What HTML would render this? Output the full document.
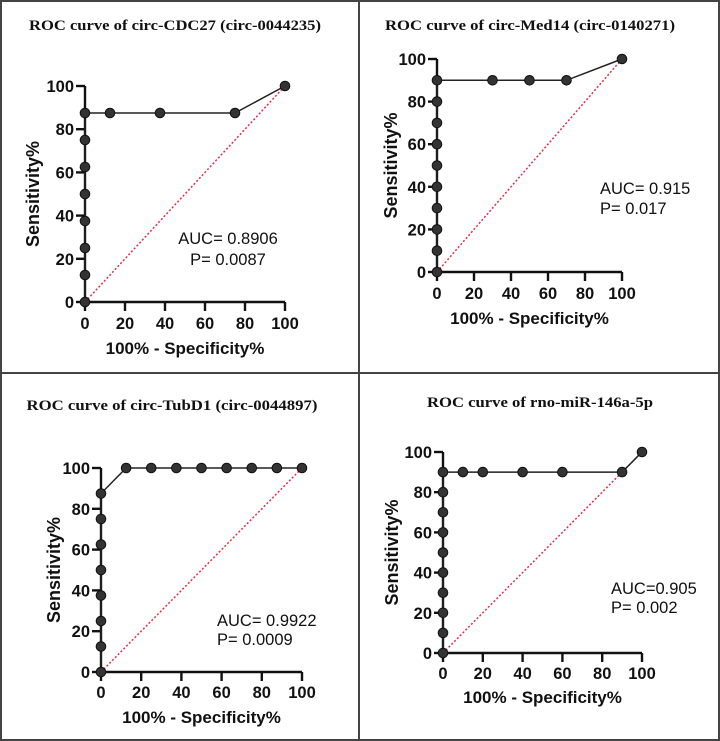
<!DOCTYPE html>
<html><head><meta charset="utf-8"><style>
html,body{margin:0;padding:0;background:#fff;}
svg{display:block;}
.tick{font:bold 16.5px "Liberation Sans",sans-serif;fill:#111;}
.atitle{font:bold 17px "Liberation Sans",sans-serif;fill:#111;}
.ytitle{font:bold 18px "Liberation Sans",sans-serif;fill:#111;}
.ptitle{font:bold 15px "Liberation Serif",serif;fill:#111;}
.auc{font:16.5px "Liberation Sans",sans-serif;fill:#111;}
</style></head><body>
<svg id="fig" width="720" height="741" viewBox="0 0 720 741" xmlns="http://www.w3.org/2000/svg">
<rect x="1" y="1" width="718" height="739" fill="#fff" stroke="#444" stroke-width="2"/>
<line x1="359" y1="0" x2="359" y2="741" stroke="#444" stroke-width="2"/>
<line x1="0" y1="373" x2="720" y2="373" stroke="#444" stroke-width="2"/>
</svg>
<script>
// Panel 1: circ-CDC27
const p1X = [0,0,0,0,0,0,0,0,12.5,37.5,75,100];
const p1Y = [0,12.5,25,37.5,50,62.5,75,87.5,87.5,87.5,87.5,100];
// Panel 2: circ-Med14
const p2X = [0,0,0,0,0,0,0,0,0,0,30,50,70,100];
const p2Y = [0,10,20,30,40,50,60,70,80,90,90,90,90,100];
// Panel 3: circ-TubD1
const p3X = [0,0,0,0,0,0,0,0,12.5,25,37.5,50,62.5,75,87.5,100];
const p3Y = [0,12.5,25,37.5,50,62.5,75,87.5,100,100,100,100,100,100,100,100];
// Panel 4: rno-miR-146a-5p
const p4X = [0,0,0,0,0,0,0,0,0,0,10,20,40,60,90,100];
const p4Y = [0,10,20,30,40,50,60,70,80,90,90,90,90,90,90,100];
const tickLabels = [0,20,40,60,80,100];
const titles = ["ROC curve of circ-CDC27 (circ-0044235)","ROC curve of circ-Med14 (circ-0140271)","ROC curve of circ-TubD1 (circ-0044897)","ROC curve of rno-miR-146a-5p"];
const aucs = ["AUC= 0.8906","AUC= 0.915","AUC= 0.9922","AUC=0.905"];
const pvals = ["P= 0.0087","P= 0.017","P= 0.0009","P= 0.002"];

const NS="http://www.w3.org/2000/svg";
const svg=document.getElementById('fig');
function mk(tag,attrs,parent){const e=document.createElementNS(NS,tag);for(const k in attrs)e.setAttribute(k,attrs[k]);(parent||svg).appendChild(e);return e;}

const layouts=[
 {x0:85,x1:285,y0:302,y1:86,tx:175,ty:30,tw:292,ax:228,ay:244,pax:228,pay:265,anchor:'middle',xl:329,xt:354,yl:33},
 {x0:437,x1:622,y0:272,y1:59,tx:530,ty:30,tw:290,ax:600,ay:194,pax:600,pay:214,anchor:'start',xl:299,xt:324,yl:391},
 {x0:101,x1:302,y0:672,y1:468,tx:172,ty:410,tw:291,ax:217,ay:626,pax:217,pay:645,anchor:'start',xl:698,xt:723,yl:54},
 {x0:443,x1:642,y0:653,y1:452,tx:540,ty:407,tw:226,ax:611,ay:594,pax:611,pay:613,anchor:'start',xl:679,xt:703,yl:392}
];
const data=[[p1X,p1Y],[p2X,p2Y],[p3X,p3Y],[p4X,p4Y]];

layouts.forEach((L,i)=>{
  const g=mk('g',{});
  
  
  const sx=v=>L.x0+(L.x1-L.x0)*v/100;
  const sy=v=>L.y0+(L.y1-L.y0)*v/100;
  const t=mk('text',{x:L.tx,y:L.ty,'text-anchor':'middle',class:'ptitle',textLength:L.tw,lengthAdjust:'spacingAndGlyphs'},g);
  t.textContent=titles[i];
  
  
  const d=mk('line',{x1:sx(0),y1:sy(0),x2:sx(100),y2:sy(100),stroke:'#e0304a','stroke-width':1.5,'stroke-dasharray':'2,2'},g);
  
  
  const ax=mk('path',{d:`M${sx(0)},${sy(100)} V${sy(0)} H${sx(100)}`,fill:'none',stroke:'#111','stroke-width':2.4},g);
  
  
  tickLabels.forEach(v=>{
    mk('line',{x1:sx(0)-9,y1:sy(v),x2:sx(0),y2:sy(v),stroke:'#111','stroke-width':2.4},g);
    mk('line',{x1:sx(v),y1:sy(0),x2:sx(v),y2:sy(0)+9,stroke:'#111','stroke-width':2.4},g);
    const yt=mk('text',{x:sx(0)-11,y:sy(v)+6,'text-anchor':'end',class:'tick'},g);
    yt.textContent=v;
    
    
    const xt=mk('text',{x:sx(v),y:L.xl,'text-anchor':'middle',class:'tick'},g);
    xt.textContent=v;
    
    
  });
  const xtl=mk('text',{x:(sx(0)+sx(100))/2,y:L.xt,'text-anchor':'middle',class:'atitle'},g);
  xtl.textContent='100% - Specificity%';
  
  
  const ym=(sy(0)+sy(100))/2;
  const ytl=mk('text',{x:L.yl,y:ym,'text-anchor':'middle',class:'ytitle',transform:`rotate(-90 ${L.yl} ${ym})`,dy:6},g);
  ytl.textContent='Sensitivity%';
  
  
  const [xs,ys]=data[i];
  const pts=xs.map((x,k)=>sx(x)+','+sy(ys[k])).join(' ');
  const pl=mk('polyline',{points:pts,fill:'none',stroke:'#222','stroke-width':1.5},g);
  
  
  xs.forEach((x,k)=>{
    const c=mk('circle',{cx:sx(x),cy:sy(ys[k]),r:4.8,fill:'#333',stroke:'#111','stroke-width':1},g);
    
    
  });
  const a=mk('text',{x:L.ax,y:L.ay,'text-anchor':L.anchor,class:'auc'},g);
  a.textContent=aucs[i];
  
  
  const p=mk('text',{x:L.pax,y:L.pay,'text-anchor':L.anchor,class:'auc'},g);
  p.textContent=pvals[i];
  
  
});
</script>
</body></html>
